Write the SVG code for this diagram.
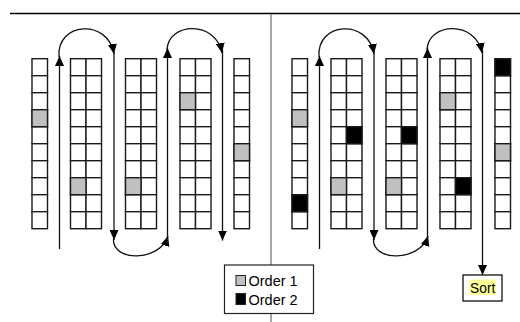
<svg xmlns="http://www.w3.org/2000/svg" xmlns:xlink="http://www.w3.org/1999/xlink" width="520" height="322" viewBox="0 0 520 322">
<style>
.c{fill:#fff;stroke:#1a1a1a;stroke-width:1.4}
.g{fill:#c0c0c0}
.k{fill:#000}
.ln{fill:none;stroke:#111;stroke-width:1.3}
.t{font-family:"Liberation Sans",Arial,sans-serif;fill:#000}
</style>
<defs>
<marker id="ah" markerUnits="userSpaceOnUse" markerWidth="11" markerHeight="9" refX="10" refY="4.5" orient="auto">
<path d="M0,0 L10,4.5 L0,9 z" fill="#000"/>
</marker>
<g id="single">
<rect class="c" x="0" y="0" width="15.5" height="17"/>
<rect class="c" x="0" y="17" width="15.5" height="17"/>
<rect class="c" x="0" y="34" width="15.5" height="17"/>
<rect class="c" x="0" y="51" width="15.5" height="17"/>
<rect class="c" x="0" y="68" width="15.5" height="17"/>
<rect class="c" x="0" y="85" width="15.5" height="17"/>
<rect class="c" x="0" y="102" width="15.5" height="17"/>
<rect class="c" x="0" y="119" width="15.5" height="17"/>
<rect class="c" x="0" y="136" width="15.5" height="17"/>
<rect class="c" x="0" y="153" width="15.5" height="17"/>
</g>
<g id="double">
<use xlink:href="#single" x="0"/>
<use xlink:href="#single" x="15.5"/>
</g>
</defs>

<line x1="10" y1="13.5" x2="520" y2="13.5" stroke="#000" stroke-width="1.4"/>
<line x1="271" y1="14" x2="271" y2="322" stroke="#888" stroke-width="1.5"/>

<!-- left panel -->
<g id="L1" transform="translate(32,58.7)">
<use xlink:href="#single"/>
<rect class="c g" x="0" y="51" width="15.5" height="17"/>
</g>
<g id="L2" transform="translate(70.5,58.7)">
<use xlink:href="#double"/>
<rect class="c g" x="0" y="119" width="15.5" height="17"/>
</g>
<g id="L3" transform="translate(125.5,58.7)">
<use xlink:href="#double"/>
<rect class="c g" x="0" y="119" width="15.5" height="17"/>
</g>
<g id="L4" transform="translate(180,58.7)">
<use xlink:href="#double"/>
<rect class="c g" x="0" y="34" width="15.5" height="17"/>
</g>
<g id="L5" transform="translate(234,58.7)">
<use xlink:href="#single"/>
<rect class="c g" x="0" y="85" width="15.5" height="17"/>
</g>

<!-- right panel -->
<g id="R1" transform="translate(292,58.7)">
<use xlink:href="#single"/>
<rect class="c g" x="0" y="51" width="15.5" height="17"/>
<rect class="c k" x="0" y="136" width="15.5" height="17"/>
</g>
<g id="R2" transform="translate(331,58.7)">
<use xlink:href="#double"/>
<rect class="c g" x="0" y="119" width="15.5" height="17"/>
<rect class="c k" x="15.5" y="68" width="15.5" height="17"/>
</g>
<g id="R3" transform="translate(386,58.7)">
<use xlink:href="#double"/>
<rect class="c g" x="0" y="119" width="15.5" height="17"/>
<rect class="c k" x="15.5" y="68" width="15.5" height="17"/>
</g>
<g id="R4" transform="translate(440,58.7)">
<use xlink:href="#double"/>
<rect class="c g" x="0" y="34" width="15.5" height="17"/>
<rect class="c k" x="15.5" y="119" width="15.5" height="17"/>
</g>
<g id="R5" transform="translate(495,58.7)">
<use xlink:href="#single"/>
<rect class="c k" x="0" y="0" width="15.5" height="17"/>
<rect class="c g" x="0" y="85" width="15.5" height="17"/>
</g>

<g id="connectors">
<g id="left-path">
<line class="ln" x1="59.5" y1="249" x2="59.5" y2="56" marker-end="url(#ah)"/>
<path class="ln" d="M59,57 C56,22 108,18 114,54" marker-end="url(#ah)"/>
<line class="ln" x1="114" y1="52" x2="114" y2="240" marker-end="url(#ah)"/>
<path class="ln" d="M113.5,239 C112,262 160,262 168,236" marker-end="url(#ah)"/>
<line class="ln" x1="167.5" y1="242" x2="167.5" y2="48" marker-end="url(#ah)"/>
<path class="ln" d="M167,50 C168,22 216,20 222,53" marker-end="url(#ah)"/>
<line class="ln" x1="222.5" y1="50" x2="222.5" y2="240.5" marker-end="url(#ah)"/>
</g>
<g id="right-path">
<line class="ln" x1="319.5" y1="249" x2="319.5" y2="56" marker-end="url(#ah)"/>
<path class="ln" d="M319,57 C316,22 368,18 374,54" marker-end="url(#ah)"/>
<line class="ln" x1="374" y1="52" x2="374" y2="240" marker-end="url(#ah)"/>
<path class="ln" d="M373.5,239 C372,262 420,262 428,236" marker-end="url(#ah)"/>
<line class="ln" x1="427.5" y1="242" x2="427.5" y2="48" marker-end="url(#ah)"/>
<path class="ln" d="M427,50 C428,22 476,20 482,53" marker-end="url(#ah)"/>
<line class="ln" x1="482.5" y1="50" x2="482.5" y2="275" marker-end="url(#ah)"/>
</g>
</g>

<g id="legend">
<rect x="224.5" y="265" width="89" height="48.5" fill="#fff" stroke="#222" stroke-width="1.2"/>
<rect x="236" y="275.5" width="9.5" height="10" fill="#c0c0c0" stroke="#222" stroke-width="1"/>
<text class="t" x="248.5" y="285.5" font-size="14.5">Order 1</text>
<rect x="236" y="293.5" width="9.5" height="11" fill="#000" stroke="#222" stroke-width="1"/>
<text class="t" x="248.5" y="304.5" font-size="14.5">Order 2</text>
</g>

<g id="sort">
<rect x="463" y="275" width="39" height="26" fill="#fff" stroke="#111" stroke-width="1.3"/>
<rect x="469.5" y="279.5" width="26.5" height="15.5" fill="#ffff99"/>
<text class="t" x="482.7" y="293" font-size="13.8" text-anchor="middle">Sort</text>
</g>
</svg>
